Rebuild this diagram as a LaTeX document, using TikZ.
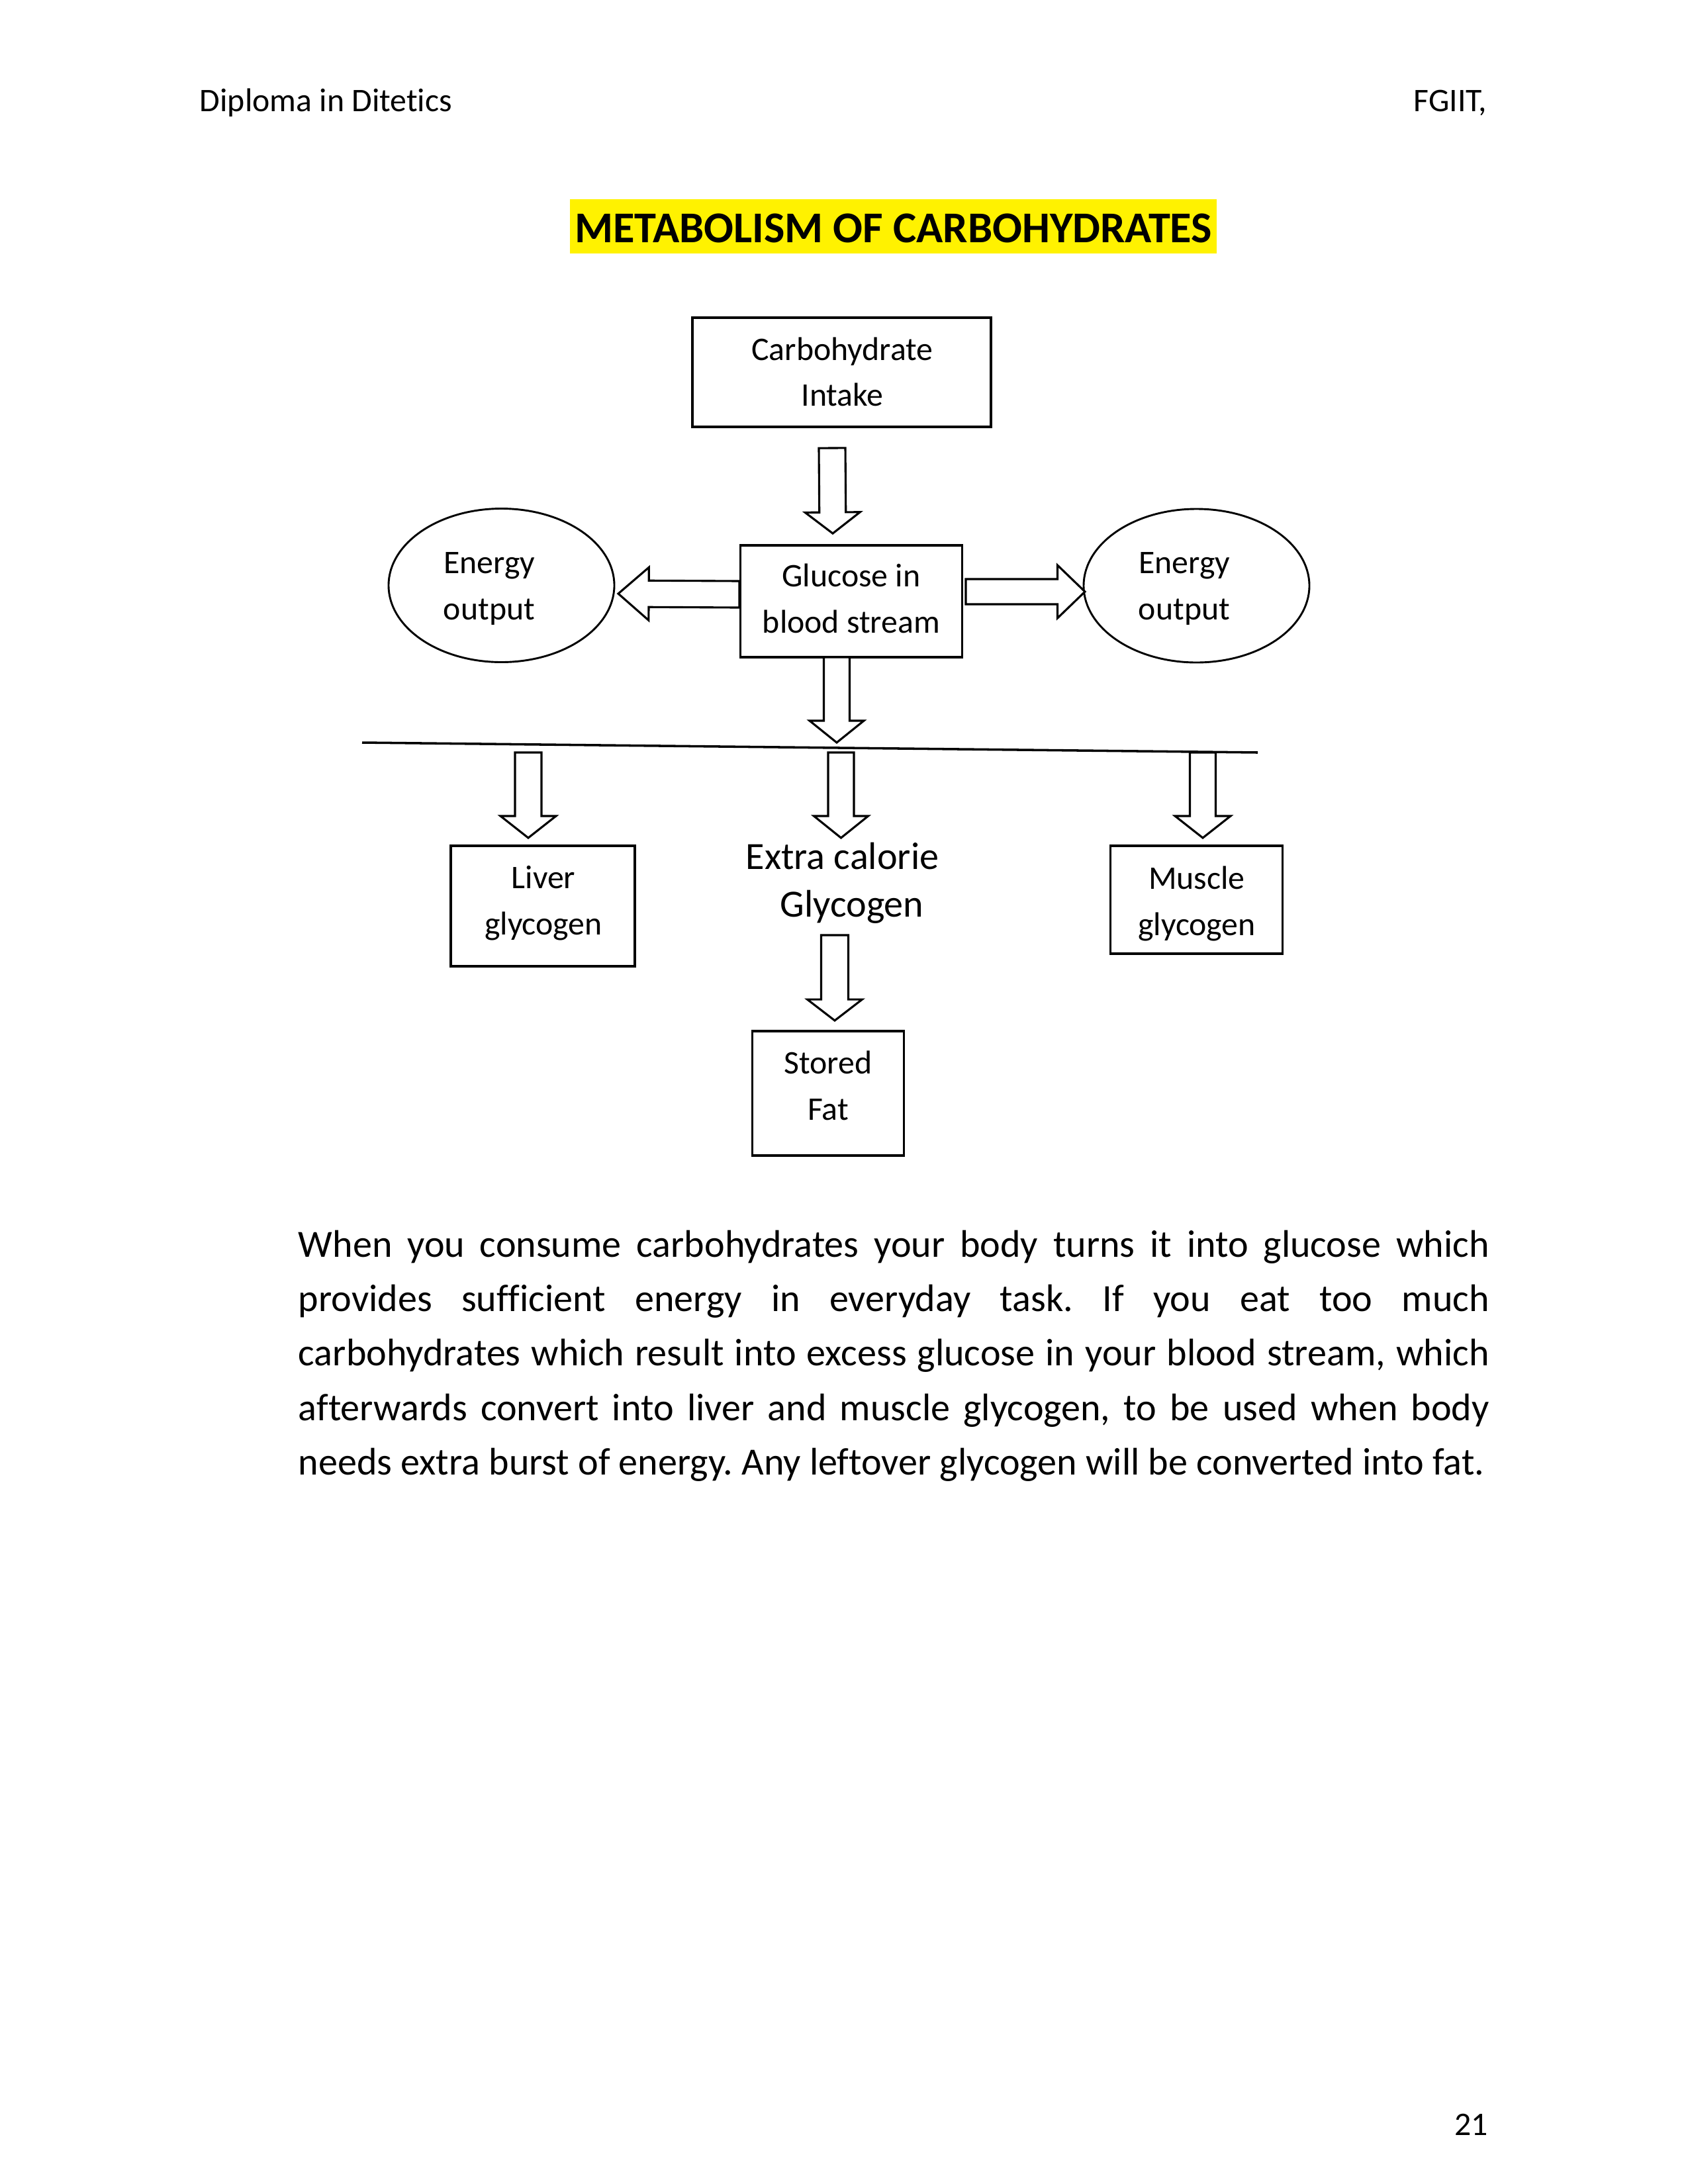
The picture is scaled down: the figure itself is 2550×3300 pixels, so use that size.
\documentclass[tikz,border=0pt]{standalone}
\usepackage{fontspec}
\setmainfont{Carlito}[Ligatures=NoCommon]
\usetikzlibrary{calc,shapes.geometric}
\newdimen\pxu \pxu=0.2409pt
% block arrow from #1 to tip #2: half shaft #3, half head #4, head length #5
\newcommand\blockarrow[5]{%
  \coordinate (ba-h) at ($(#2)!#5!(#1)$);
  \draw[blk] ($(#1)!#3!90:(#2)$) -- ($(ba-h)!#3!90:(#2)$) -- ($(ba-h)!#4!90:(#2)$)
    -- (#2) -- ($(ba-h)!#4!-90:(#2)$) -- ($(ba-h)!#3!-90:(#2)$) -- ($(#1)!#3!-90:(#2)$) -- cycle;
}
\begin{document}
\begin{tikzpicture}[x=0.2409pt,y=-0.2409pt,
  box/.style={draw,line width=0.75pt,rectangle,inner sep=0pt},
  oval/.style={draw,line width=0.7pt,ellipse,inner sep=0pt},
  lbl/.style={inner sep=0pt,align=center,font=\fontsize{12}{16.7}\selectfont},
  blk/.style={draw,line width=0.75pt,fill=white,line join=miter}]
\useasboundingbox[fill=white] (0,0) rectangle (2550,3300);

% page header and footer
\node[inner sep=0pt,anchor=base west,font=\fontsize{12}{14}\selectfont] (hdl) at (301,168) {Diploma in Ditetics};
\node[inner sep=0pt,anchor=base east,font=\fontsize{12}{14}\selectfont] (hdr) at (2247,168) {FGIIT,};
\node[inner sep=0pt,anchor=base east,font=\fontsize{12}{14}\selectfont] (pgno) at (2249,3226) {21};

% title with highlight
\node[fill=yellow,inner sep=0pt,minimum width=977\pxu,minimum height=82\pxu] (titlebg) at (1349.5,342) {};
\node[inner sep=0pt,anchor=base,font=\fontsize{16}{19}\selectfont\bfseries] (title) at (1349.5,366) {METABOLISM OF CARBOHYDRATES};

% boxes
\node[box,minimum width=451\pxu,minimum height=165\pxu] (carb) at (1271.5,562.5) {};
\node[box,minimum width=335\pxu,minimum height=169\pxu] (gluc) at (1286,908.5) {};
\node[box,minimum width=278\pxu,minimum height=182\pxu] (liver) at (820,1369) {};
\node[box,minimum width=260\pxu,minimum height=163\pxu] (muscle) at (1807.7,1359.5) {};
\node[box,minimum width=229\pxu,minimum height=188\pxu] (fat) at (1251,1652) {};
\node[oval,minimum width=341\pxu,minimum height=232\pxu] (eleft) at (757.5,884.5) {};
\node[oval,minimum width=341\pxu,minimum height=232\pxu] (eright) at (1807.5,885) {};

% labels (base anchor sits on the last line)
\node[lbl,anchor=base] (carbT) at (1272.5,613.5) {Carbohydrate\\Intake};
\node[lbl,anchor=base] (glucT) at (1286,956) {Glucose in\\blood stream};
\node[lbl,anchor=base] (liverT) at (821,1412) {Liver\\glycogen};
\node[lbl,anchor=base] (muscleT) at (1808,1413) {Muscle\\glycogen};
\node[lbl,anchor=base] (fatT) at (1251,1692) {Stored\\Fat};
\node[lbl,anchor=base] (eleftT) at (739,936) {Energy\\output};
\node[lbl,anchor=base] (erightT) at (1789,936) {Energy\\output};
\node[inner sep=0pt,align=center,anchor=base,font=\fontsize{14}{17.3}\selectfont] (extra) at (1272.5,1385) {Extra calorie\\\hspace*{7pt}Glycogen};

% dividing line
\coordinate (divL) at (547,1122);
\coordinate (divR) at (1900,1137);
\draw[line width=0.85pt] (divL) -- (divR);

% arrow end points
\coordinate (a1s) at (1257,677);   \coordinate (a1t) at (1258,806);
\coordinate (als) at (gluc.west|-0,898); \coordinate (alt) at (934,897);
\coordinate (ars) at (1459,894);   \coordinate (art) at (1639,894);
\coordinate (ads) at (1264,993);   \coordinate (adt) at (1264,1122);
\coordinate (lvs) at (798,1137);   \coordinate (lvt) at (798,1266);
\coordinate (mds) at (1270.5,1137);\coordinate (mdt) at (1270.5,1266);
\coordinate (mss) at (1817,1137);  \coordinate (mst) at (1817,1266);
\coordinate (fts) at (1261,1413);  \coordinate (ftt) at (1261,1542);

\blockarrow{a1s}{a1t}{4.82pt}{10.0pt}{7.7pt}
\blockarrow{als}{alt}{4.82pt}{9.64pt}{11.1pt}
\blockarrow{ars}{art}{4.58pt}{9.64pt}{10.0pt}
\blockarrow{ads}{adt}{4.7pt}{9.88pt}{7.95pt}
\blockarrow{lvs}{lvt}{4.82pt}{10.1pt}{7.95pt}
\blockarrow{mds}{mdt}{4.7pt}{9.88pt}{7.95pt}
\blockarrow{mss}{mst}{4.7pt}{10.1pt}{7.95pt}
\blockarrow{fts}{ftt}{4.94pt}{10.0pt}{7.7pt}

% explanatory paragraph
\node[inner sep=0pt,anchor=base west,text width=433.4pt,align=justify,
      font=\fontsize{14}{19.85}\selectfont] (para) at (450,1899)
{\frenchspacing\hyphenpenalty=10000 \tolerance=10000 \parfillskip=0pt plus 1fil
When you consume carbohydrates your body turns it into glucose which\linebreak
provides sufficient energy in everyday task. If you eat too much\linebreak
carbohydrates which result into excess glucose in your blood stream, which\linebreak
afterwards convert into liver and muscle glycogen, to be used when body\linebreak
needs extra burst of energy. Any leftover glycogen will be converted into fat.};
\end{tikzpicture}
\end{document}
